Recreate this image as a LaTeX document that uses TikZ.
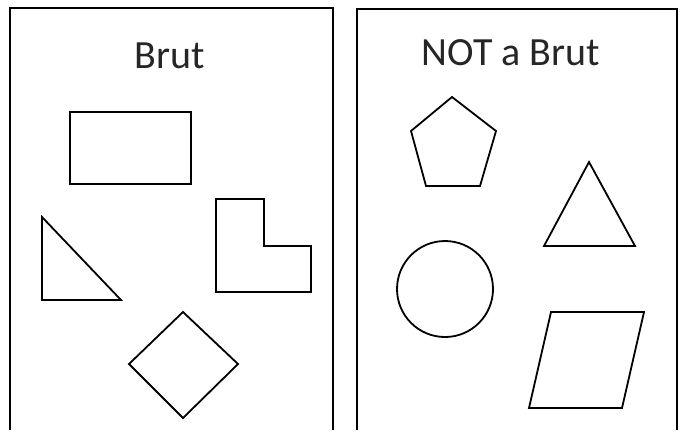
\documentclass[tikz,border=0pt]{standalone}
\usepackage{fontspec}
\setmainfont{Carlito}
\begin{document}
\begin{tikzpicture}[x=0.5pt,y=-0.5pt,
  shape line/.style={draw=black,line width=0.9pt,line join=miter},
  panel/.style={draw=black,line width=1.1pt},
  title/.style={font=\fontsize{20}{24}\selectfont,anchor=base,inner sep=0pt,text=black!85}]
\useasboundingbox (0,0) rectangle (683,430);
% panels (open at the bottom)
\draw[panel] (10,430) -- (10,8) -- (333,8) -- (333,430);
\draw[panel] (357,430) -- (357,9) -- (677,9) -- (677,430);
% titles
\node[title] (t1) at (170,68) {Brut};
\node[title] (t2) at (511,65) {NOT a Brut};
% Brut shapes
\draw[shape line] (70,112) rectangle (191,184);
\draw[shape line] (42,217) -- (42,300) -- (121,300) -- cycle;
\draw[shape line] (216,199) -- (264,199) -- (264,246) -- (311,246) -- (311,292) -- (216,292) -- cycle;
\draw[shape line] (183,312) -- (238,364) -- (183,418) -- (129,364) -- cycle;
% NOT a Brut shapes
\draw[shape line] (452,97) -- (496,131) -- (480,186) -- (426,186) -- (411,131) -- cycle;
\draw[shape line] (589,162) -- (635,246) -- (544,246) -- cycle;
\draw[shape line] (445,289) circle (48);
\draw[shape line] (551,312) -- (644,312) -- (622,408) -- (529,408) -- cycle;
\end{tikzpicture}
\end{document}
